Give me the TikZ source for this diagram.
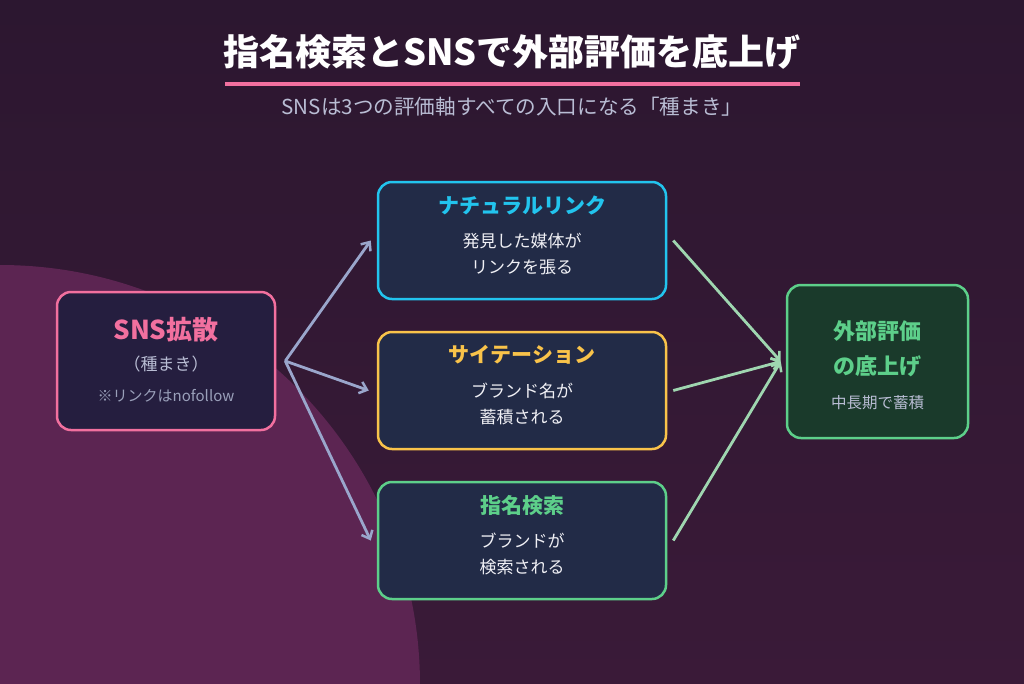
\documentclass[tikz,border=0pt]{standalone}
\usepackage{fontspec}
\setmainfont{Noto Sans CJK JP}
\usetikzlibrary{arrows.meta}
\definecolor{bgtop}{HTML}{2C1730}
\definecolor{bgbot}{HTML}{3A1A38}
\definecolor{circ}{HTML}{5C2552}
\definecolor{navy}{HTML}{222B47}
\definecolor{snsfill}{HTML}{251E3F}
\definecolor{resfill}{HTML}{1A3A2B}
\definecolor{pinkc}{HTML}{F2709F}
\definecolor{cyanc}{HTML}{22C4EE}
\definecolor{yellowc}{HTML}{F9C34A}
\definecolor{greenc}{HTML}{5DCF8A}
\definecolor{arrL}{HTML}{9AA6CC}
\definecolor{arrR}{HTML}{9FD6B0}
\definecolor{subc}{HTML}{B9BDD4}
\definecolor{bodyc}{HTML}{F0F0F5}
\definecolor{smallc}{HTML}{9AA0BA}
\begin{document}
\begin{tikzpicture}[x=1pt,y=-1pt,
  box/.style={rounded corners=14pt, line width=2.5pt, minimum width=288pt, minimum height=117pt, fill=navy, inner sep=0pt},
  ttl/.style={font=\fontsize{21}{24}\selectfont\bfseries, inner sep=0pt},
  body/.style={font=\fontsize{17}{20}\selectfont, text=bodyc, inner sep=0pt},
  larr/.style={draw=arrL, line width=2.8pt, -{Straight Barb[length=7pt,width=12pt,line width=2.5pt]}},
  rarr/.style={draw=arrR, line width=2.8pt, -{Straight Barb[length=7pt,width=12pt,line width=2.5pt]}}]
\useasboundingbox (0,0) rectangle (1024,683);
\shade[top color=bgtop, bottom color=bgbot] (0,0) rectangle (1024,683);
\begin{scope}
\clip (0,0) rectangle (1024,683);
\fill[circ] (0,685) circle (420pt);
\end{scope}
% title
\node[font=\fontsize{36}{40}\selectfont\bfseries, text=white, inner sep=0pt] (title) at (512,52) {指名検索とSNSで外部評価を底上げ};
\draw[pinkc, line width=4pt] (225,84) -- (800,84);
\node[font=\fontsize{20.6}{24}\selectfont, text=subc, inner sep=0pt] (sub) at (512,107) {SNSは3つの評価軸すべての入口になる「種まき」};
% SNS box
\node[box, fill=snsfill, draw=pinkc, minimum width=218pt, minimum height=138pt] (sns) at (166,361) {};
\node[font=\fontsize{26}{30}\selectfont\bfseries, text=pinkc, inner sep=0pt] (snsT) at (166,330) {SNS拡散};
\node[font=\fontsize{17}{20}\selectfont, text=subc, inner sep=0pt] (snsS) at (166,364) {（種まき）};
\node[font=\fontsize{15}{18}\selectfont, text=smallc, inner sep=0pt] (snsN) at (166,396) {※リンクはnofollow};
% middle boxes
\node[box, draw=cyanc] (nat) at (522,240.5) {};
\node[ttl, text=cyanc] (natT) at (522,205) {ナチュラルリンク};
\node[body] (nat1) at (522,241) {発見した媒体が};
\node[body] (nat2) at (522,267) {リンクを張る};
\node[box, draw=yellowc] (cit) at (522,390.5) {};
\node[ttl, text=yellowc] (citT) at (522,355) {サイテーション};
\node[body] (cit1) at (522,391) {ブランド名が};
\node[body] (cit2) at (522,417) {蓄積される};
\node[box, draw=greenc] (nam) at (522,540.5) {};
\node[ttl, text=greenc] (namT) at (522,505) {指名検索};
\node[body] (nam1) at (522,541) {ブランドが};
\node[body] (nam2) at (522,567) {検索される};
% result box
\node[box, fill=resfill, draw=greenc, minimum width=181pt, minimum height=153pt] (res) at (877.5,361.5) {};
\node[font=\fontsize{22}{26}\selectfont\bfseries, text=greenc, inner sep=0pt] (res1) at (877.5,331) {外部評価};
\node[font=\fontsize{22}{26}\selectfont\bfseries, text=greenc, inner sep=0pt] (res2) at (877.5,366) {の底上げ};
\node[font=\fontsize{15.5}{18}\selectfont, text=subc, inner sep=0pt] (res3) at (877.5,403) {中長期で蓄積};
% connectors
\coordinate (fan) at ([xshift=9pt]sns.east);
\coordinate (conv) at ([xshift=-5pt]res.west);
\draw[larr] (fan) -- ([xshift=-6pt]nat.west);
\draw[larr] (fan) -- ([xshift=-8pt]cit.west);
\draw[larr] (fan) -- ([xshift=-6pt]nam.west);
\draw[rarr] ([xshift=6pt]nat.east) -- (conv);
\draw[rarr] ([xshift=6pt]cit.east) -- (conv);
\draw[rarr] ([xshift=6pt]nam.east) -- (conv);
\end{tikzpicture}
\end{document}
